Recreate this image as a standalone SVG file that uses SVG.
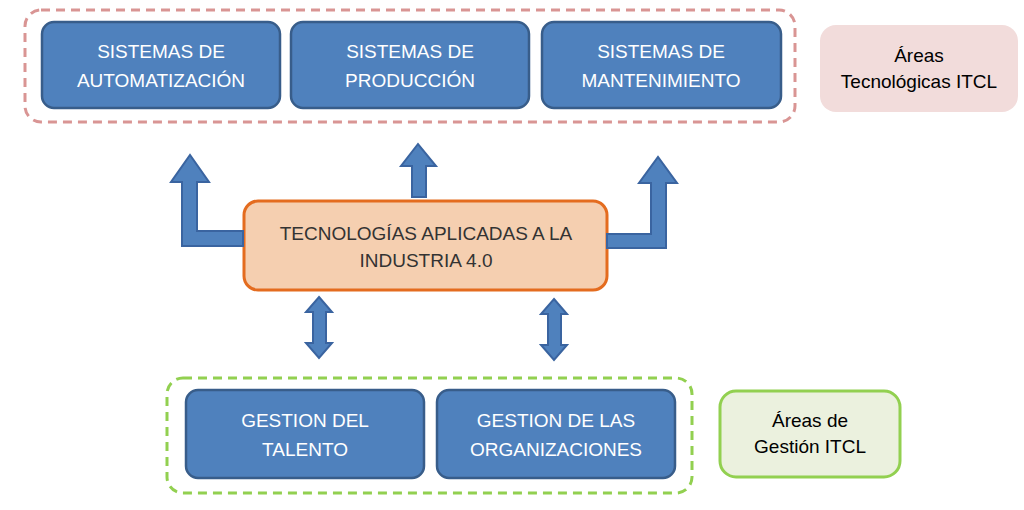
<svg xmlns="http://www.w3.org/2000/svg" width="1024" height="510" viewBox="0 0 1024 510">
<style>
.b{fill:#4f81bd;stroke:#385d8a;stroke-width:2.5}
.t{font-family:"Liberation Sans",Arial,sans-serif;font-size:19px;text-anchor:middle}
.w{fill:#fff}
.g{fill:#333}
.a{fill:#4f81bd;stroke:#3a64a0;stroke-width:2}
</style>
<rect width="1024" height="510" fill="#fff"/>
<rect x="25" y="10" width="770" height="112" rx="16" fill="none" stroke="#d99594" stroke-width="3" stroke-dasharray="9,6"/>
<rect x="167" y="378" width="525" height="115" rx="16" fill="none" stroke="#92d050" stroke-width="3" stroke-dasharray="9,6"/>
<g id="n1"><rect class="b" x="42" y="22" width="238" height="86" rx="12"/><text class="t w" x="161" y="58">SISTEMAS DE</text><text class="t w" x="161" y="87">AUTOMATIZACIÓN</text></g>
<g id="n2"><rect class="b" x="291" y="22" width="238" height="86" rx="12"/><text class="t w" x="410" y="58">SISTEMAS DE</text><text class="t w" x="410" y="87">PRODUCCIÓN</text></g>
<g id="n3"><rect class="b" x="542" y="22" width="239" height="86" rx="12"/><text class="t w" x="661" y="58">SISTEMAS DE</text><text class="t w" x="661" y="87">MANTENIMIENTO</text></g>
<g id="l1"><rect x="820" y="25" width="198" height="87" rx="16" fill="#f2dcdb"/><text class="t" x="919" y="62" fill="#000" font-size="18">Áreas</text><text class="t" x="919" y="88" fill="#000" font-size="18">Tecnológicas ITCL</text></g>
<g id="c"><rect x="244" y="201" width="363" height="89" rx="14" fill="#f5cfb0" stroke="#e46c1f" stroke-width="3"/><text class="t g" x="426" y="240">TECNOLOGÍAS APLICADAS A LA</text><text class="t g" x="426" y="267">INDUSTRIA 4.0</text></g>
<g id="n4"><rect class="b" x="186" y="390" width="238" height="88" rx="12"/><text class="t w" x="305" y="427">GESTION DEL</text><text class="t w" x="305" y="456">TALENTO</text></g>
<g id="n5"><rect class="b" x="437" y="390" width="238" height="88" rx="12"/><text class="t w" x="556" y="427">GESTION DE LAS</text><text class="t w" x="556" y="456">ORGANIZACIONES</text></g>
<g id="l2"><rect x="720" y="391" width="180" height="86" rx="16" fill="#ebf1de" stroke="#92d050" stroke-width="3"/><text class="t" x="810" y="427" fill="#000" font-size="18">Áreas de</text><text class="t" x="810" y="453" fill="#000" font-size="18">Gestión ITCL</text></g>
<g id="connectors">
<polygon class="a" points="243,231 197,231 197,182 209,182 190,155 171,182 182,182 182,246 243,246"/>
<polygon class="a" points="412,197 412,166 401,166 418,144 436,166 426,166 426,197"/>
<polygon class="a" points="607,234 651,234 651,183 639,183 658,157 677,183 666,183 666,248 607,248"/>
<polygon class="a" points="319,297 332,312 326,312 326,343 332,343 319,358 306,343 313,343 313,312 306,312"/>
<polygon class="a" points="554,299 567,314 561,314 561,345 567,345 554,360 541,345 548,345 548,314 541,314"/>
</g>
</svg>
